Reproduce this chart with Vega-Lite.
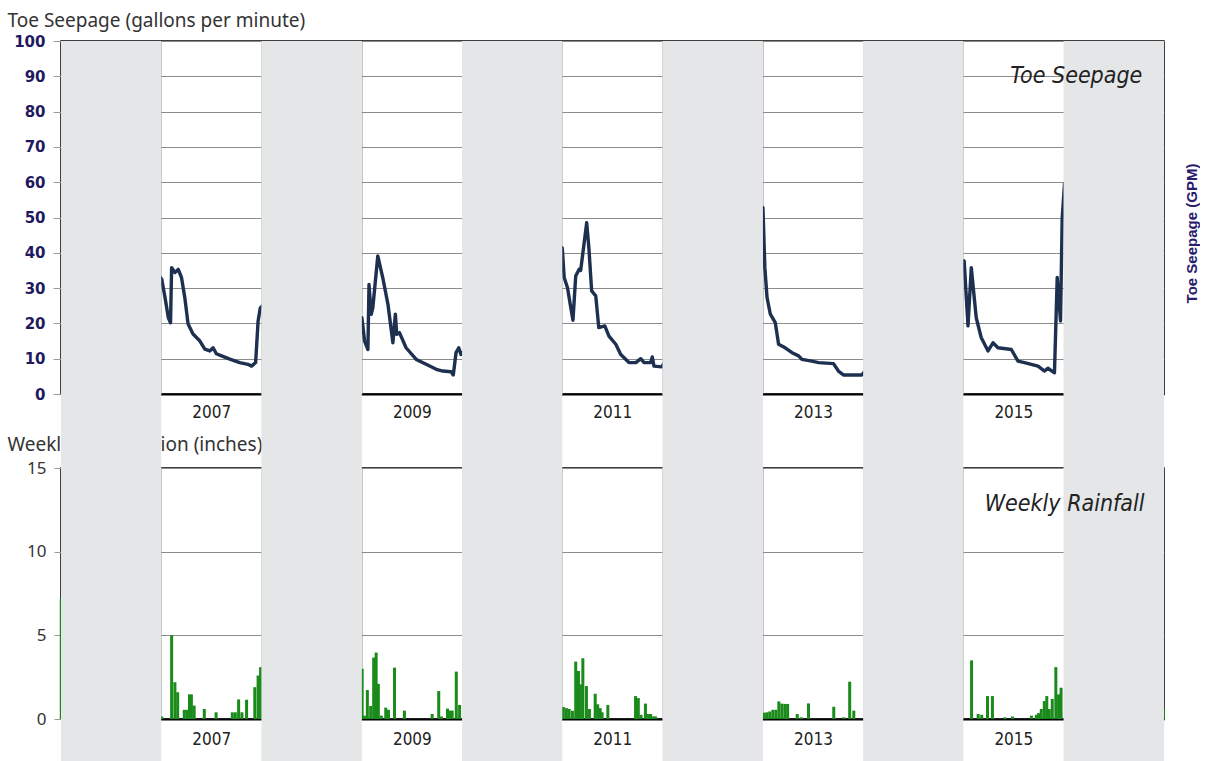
{
  "$schema": "https://vega.github.io/schema/vega-lite/v6.json",
  "background": "white",
  "padding": {"left": 6, "top": 10, "right": 0, "bottom": 0},
  "bounds": "flush",
  "spacing": 74,
  "config": {
    "view": {"stroke": "black", "strokeWidth": 1.5}
  },
  "datasets": {
    "bands": [
      {"start": "2006-01-01", "end": "2007-01-01"},
      {"start": "2008-01-01", "end": "2009-01-01"},
      {"start": "2010-01-01", "end": "2011-01-01"},
      {"start": "2012-01-01", "end": "2013-01-01"},
      {"start": "2014-01-01", "end": "2015-01-01"},
      {"start": "2016-01-01", "end": "2017-01-01"}
    ],
    "seepage": [
      {"date": "2006-12-20", "gpm": 34},
      {"date": "2007-01-03", "gpm": 32.5},
      {"date": "2007-01-15", "gpm": 27.3},
      {"date": "2007-01-27", "gpm": 21.6},
      {"date": "2007-02-04", "gpm": 20.2},
      {"date": "2007-02-08", "gpm": 35.8},
      {"date": "2007-02-20", "gpm": 34.4},
      {"date": "2007-03-04", "gpm": 35.3},
      {"date": "2007-03-16", "gpm": 33},
      {"date": "2007-03-28", "gpm": 27.3},
      {"date": "2007-04-09", "gpm": 19.8},
      {"date": "2007-04-27", "gpm": 17},
      {"date": "2007-05-22", "gpm": 15},
      {"date": "2007-06-09", "gpm": 12.7},
      {"date": "2007-06-27", "gpm": 12.2},
      {"date": "2007-07-09", "gpm": 13.1},
      {"date": "2007-07-21", "gpm": 11.4},
      {"date": "2007-08-09", "gpm": 10.8},
      {"date": "2007-09-08", "gpm": 9.9},
      {"date": "2007-10-14", "gpm": 8.9},
      {"date": "2007-11-13", "gpm": 8.4},
      {"date": "2007-11-26", "gpm": 7.9},
      {"date": "2007-12-11", "gpm": 8.9},
      {"date": "2007-12-20", "gpm": 20.7},
      {"date": "2007-12-28", "gpm": 24.4},
      {"date": "2008-01-05", "gpm": 25},
      {"date": "2009-01-01", "gpm": 21.6},
      {"date": "2009-01-11", "gpm": 15},
      {"date": "2009-01-23", "gpm": 12.6},
      {"date": "2009-01-27", "gpm": 31},
      {"date": "2009-02-04", "gpm": 22.6},
      {"date": "2009-02-10", "gpm": 24.5},
      {"date": "2009-02-28", "gpm": 39.1},
      {"date": "2009-03-18", "gpm": 33},
      {"date": "2009-04-06", "gpm": 25.4},
      {"date": "2009-04-24", "gpm": 14.5},
      {"date": "2009-05-03", "gpm": 22.6},
      {"date": "2009-05-08", "gpm": 16.9},
      {"date": "2009-05-18", "gpm": 17.4},
      {"date": "2009-06-11", "gpm": 13.1},
      {"date": "2009-07-18", "gpm": 9.8},
      {"date": "2009-08-23", "gpm": 8.4},
      {"date": "2009-09-29", "gpm": 7},
      {"date": "2009-10-23", "gpm": 6.5},
      {"date": "2009-11-22", "gpm": 6.3},
      {"date": "2009-11-30", "gpm": 5.4},
      {"date": "2009-12-10", "gpm": 11.7},
      {"date": "2009-12-20", "gpm": 13.1},
      {"date": "2009-12-28", "gpm": 11.2},
      {"date": "2011-01-01", "gpm": 41.4},
      {"date": "2011-01-08", "gpm": 33},
      {"date": "2011-01-20", "gpm": 30.1},
      {"date": "2011-02-01", "gpm": 24.5},
      {"date": "2011-02-09", "gpm": 20.9},
      {"date": "2011-02-19", "gpm": 33.4},
      {"date": "2011-03-03", "gpm": 35.3},
      {"date": "2011-03-09", "gpm": 35},
      {"date": "2011-03-31", "gpm": 48.5},
      {"date": "2011-04-08", "gpm": 41.4},
      {"date": "2011-04-18", "gpm": 29.2},
      {"date": "2011-05-03", "gpm": 27.8},
      {"date": "2011-05-14", "gpm": 18.8},
      {"date": "2011-06-05", "gpm": 19.3},
      {"date": "2011-06-20", "gpm": 16.4},
      {"date": "2011-07-15", "gpm": 14.1},
      {"date": "2011-08-02", "gpm": 11.2},
      {"date": "2011-09-01", "gpm": 8.9},
      {"date": "2011-09-26", "gpm": 8.9},
      {"date": "2011-10-14", "gpm": 10},
      {"date": "2011-10-26", "gpm": 8.9},
      {"date": "2011-11-19", "gpm": 8.9},
      {"date": "2011-11-25", "gpm": 10.5},
      {"date": "2011-12-01", "gpm": 7.9},
      {"date": "2011-12-29", "gpm": 7.7},
      {"date": "2013-01-01", "gpm": 52.8},
      {"date": "2013-01-08", "gpm": 35.8},
      {"date": "2013-01-16", "gpm": 27.3},
      {"date": "2013-01-28", "gpm": 22.6},
      {"date": "2013-02-15", "gpm": 20.2},
      {"date": "2013-02-27", "gpm": 14.1},
      {"date": "2013-03-23", "gpm": 13.1},
      {"date": "2013-04-17", "gpm": 11.7},
      {"date": "2013-05-11", "gpm": 10.8},
      {"date": "2013-05-23", "gpm": 9.8},
      {"date": "2013-06-28", "gpm": 9.3},
      {"date": "2013-07-23", "gpm": 8.9},
      {"date": "2013-09-15", "gpm": 8.6},
      {"date": "2013-10-03", "gpm": 6.5},
      {"date": "2013-10-21", "gpm": 5.4},
      {"date": "2013-12-27", "gpm": 5.4},
      {"date": "2015-01-04", "gpm": 37.7},
      {"date": "2015-01-18", "gpm": 19.3},
      {"date": "2015-01-30", "gpm": 35.8},
      {"date": "2015-02-17", "gpm": 21.6},
      {"date": "2015-03-07", "gpm": 16},
      {"date": "2015-04-01", "gpm": 12.2},
      {"date": "2015-04-19", "gpm": 14.5},
      {"date": "2015-05-07", "gpm": 13.1},
      {"date": "2015-06-25", "gpm": 12.6},
      {"date": "2015-07-19", "gpm": 9.3},
      {"date": "2015-08-12", "gpm": 8.9},
      {"date": "2015-09-30", "gpm": 7.9},
      {"date": "2015-10-24", "gpm": 6.5},
      {"date": "2015-11-05", "gpm": 7.3},
      {"date": "2015-11-29", "gpm": 6},
      {"date": "2015-12-09", "gpm": 33},
      {"date": "2015-12-21", "gpm": 20.7},
      {"date": "2015-12-27", "gpm": 49.6},
      {"date": "2016-01-05", "gpm": 60}
    ],
    "rain": [
      {"date": "2006-01-02", "inches": 7.2},
      {"date": "2007-01-03", "inches": 0.15},
      {"date": "2007-02-08", "inches": 5.0},
      {"date": "2007-02-20", "inches": 2.2},
      {"date": "2007-03-02", "inches": 1.6},
      {"date": "2007-03-26", "inches": 0.55},
      {"date": "2007-04-05", "inches": 0.55},
      {"date": "2007-04-14", "inches": 1.47},
      {"date": "2007-04-21", "inches": 1.47},
      {"date": "2007-05-01", "inches": 0.8},
      {"date": "2007-06-07", "inches": 0.6},
      {"date": "2007-07-20", "inches": 0.4},
      {"date": "2007-09-17", "inches": 0.4},
      {"date": "2007-09-28", "inches": 0.4},
      {"date": "2007-10-10", "inches": 1.17},
      {"date": "2007-10-22", "inches": 0.4},
      {"date": "2007-11-08", "inches": 1.15},
      {"date": "2007-12-08", "inches": 1.9},
      {"date": "2007-12-20", "inches": 2.6},
      {"date": "2007-12-29", "inches": 3.1},
      {"date": "2009-01-02", "inches": 3.0},
      {"date": "2009-01-10", "inches": 0.2},
      {"date": "2009-01-21", "inches": 1.73},
      {"date": "2009-02-02", "inches": 0.78},
      {"date": "2009-02-13", "inches": 3.67},
      {"date": "2009-02-22", "inches": 3.97},
      {"date": "2009-03-02", "inches": 2.1},
      {"date": "2009-03-13", "inches": 0.2},
      {"date": "2009-03-29", "inches": 0.68},
      {"date": "2009-04-08", "inches": 0.55},
      {"date": "2009-04-30", "inches": 3.07},
      {"date": "2009-06-05", "inches": 0.5},
      {"date": "2009-09-14", "inches": 0.3},
      {"date": "2009-10-08", "inches": 1.67},
      {"date": "2009-10-18", "inches": 0.15},
      {"date": "2009-11-09", "inches": 0.62},
      {"date": "2009-11-18", "inches": 0.5},
      {"date": "2009-11-26", "inches": 0.5},
      {"date": "2009-12-11", "inches": 2.83},
      {"date": "2009-12-23", "inches": 0.84},
      {"date": "2011-01-05", "inches": 0.72},
      {"date": "2011-01-16", "inches": 0.65},
      {"date": "2011-01-26", "inches": 0.6},
      {"date": "2011-02-07", "inches": 0.5},
      {"date": "2011-02-19", "inches": 3.43},
      {"date": "2011-03-01", "inches": 2.87},
      {"date": "2011-03-08", "inches": 2.07},
      {"date": "2011-03-17", "inches": 3.63},
      {"date": "2011-03-30", "inches": 1.97},
      {"date": "2011-04-10", "inches": 0.6},
      {"date": "2011-05-01", "inches": 1.51},
      {"date": "2011-05-10", "inches": 0.88},
      {"date": "2011-05-19", "inches": 0.65},
      {"date": "2011-05-26", "inches": 0.4},
      {"date": "2011-06-16", "inches": 0.84},
      {"date": "2011-09-25", "inches": 1.37},
      {"date": "2011-10-05", "inches": 1.25},
      {"date": "2011-10-15", "inches": 0.25},
      {"date": "2011-10-31", "inches": 0.92},
      {"date": "2011-11-11", "inches": 0.3},
      {"date": "2011-11-19", "inches": 0.3},
      {"date": "2011-11-29", "inches": 0.15},
      {"date": "2011-12-07", "inches": 0.15},
      {"date": "2013-01-06", "inches": 0.38},
      {"date": "2013-01-16", "inches": 0.4},
      {"date": "2013-01-26", "inches": 0.45},
      {"date": "2013-02-06", "inches": 0.55},
      {"date": "2013-02-17", "inches": 0.55},
      {"date": "2013-02-28", "inches": 1.05},
      {"date": "2013-03-11", "inches": 0.92},
      {"date": "2013-03-22", "inches": 0.9},
      {"date": "2013-04-01", "inches": 0.9},
      {"date": "2013-05-06", "inches": 0.3},
      {"date": "2013-05-21", "inches": 0.1},
      {"date": "2013-06-16", "inches": 0.93},
      {"date": "2013-09-16", "inches": 0.73},
      {"date": "2013-10-22", "inches": 0.1},
      {"date": "2013-11-13", "inches": 2.23},
      {"date": "2013-11-28", "inches": 0.5},
      {"date": "2015-01-31", "inches": 3.5},
      {"date": "2015-02-24", "inches": 0.3},
      {"date": "2015-03-09", "inches": 0.25},
      {"date": "2015-03-30", "inches": 1.37},
      {"date": "2015-04-17", "inches": 1.37},
      {"date": "2015-06-01", "inches": 0.1},
      {"date": "2015-06-29", "inches": 0.15},
      {"date": "2015-09-06", "inches": 0.2},
      {"date": "2015-09-24", "inches": 0.25},
      {"date": "2015-10-02", "inches": 0.35},
      {"date": "2015-10-12", "inches": 0.6},
      {"date": "2015-10-23", "inches": 1.07},
      {"date": "2015-11-01", "inches": 1.37},
      {"date": "2015-11-10", "inches": 0.6},
      {"date": "2015-11-21", "inches": 1.2},
      {"date": "2015-12-04", "inches": 3.1},
      {"date": "2015-12-14", "inches": 1.47},
      {"date": "2015-12-23", "inches": 1.87},
      {"date": "2016-12-30", "inches": 0.6}
    ]
  },
  "vconcat": [
    {
      "width": 1103,
      "height": 353,
      "resolve": {"axis": {"y": "independent"}},
      "layer": [
        {
          "data": {"name": "seepage"},
          "mark": {"type": "line", "color": "#1d3050", "strokeWidth": 3.4, "strokeJoin": "round"},
          "encoding": {
            "x": {
              "field": "date",
              "type": "temporal",
              "title": null,
              "scale": {"type": "utc", "padding": 0, "domain": [{"year": 2006, "month": 1, "date": 1, "utc": true}, {"year": 2017, "month": 1, "date": 1, "utc": true}]},
              "axis": {
                "values": [
                  {"year": 2006, "utc": true}, {"year": 2007, "utc": true}, {"year": 2008, "utc": true},
                  {"year": 2009, "utc": true}, {"year": 2010, "utc": true}, {"year": 2011, "utc": true},
                  {"year": 2012, "utc": true}, {"year": 2013, "utc": true}, {"year": 2014, "utc": true},
                  {"year": 2015, "utc": true}, {"year": 2016, "utc": true}
                ],
                "format": "%Y",
                "labelOffset": 50,
                "labelPadding": 10,
                "labelFont": "DejaVu Sans Condensed, sans-serif",
                "labelFontSize": 17,
                "labelColor": "#222222",
                "ticks": false,
                "domainColor": "black",
                "domainWidth": 2,
                "grid": true,
                "gridColor": "#c4c4c4",
                "gridWidth": 1
              }
            },
            "y": {
              "field": "gpm",
              "type": "quantitative",
              "scale": {"domain": [0, 100], "nice": false},
              "axis": {
                "values": [0, 10, 20, 30, 40, 50, 60, 70, 80, 90, 100],
                "labelFont": "DejaVu Sans",
                "labelFontWeight": "bold",
                "labelFontSize": 15,
                "labelColor": "#1f1a60",
                "labelPadding": 8,
                "tickSize": 8,
                "tickColor": "#9a9a9a",
                "domain": false,
                "grid": true,
                "gridColor": "#8c8c8c",
                "gridWidth": 1,
                "title": "Toe Seepage (gallons per minute)",
                "titleAngle": 0,
                "titleAlign": "left",
                "titleBaseline": "top",
                "titleX": -54,
                "titleY": -30,
                "titleFont": "Noto Sans",
                "titleFontSize": 19,
                "titleFontWeight": "normal",
                "titleColor": "#333333"
              }
            }
          }
        },
        {
          "data": {"name": "bands"},
          "mark": {"type": "rect", "color": "#e5e6e8"},
          "encoding": {
            "x": {"field": "start", "type": "temporal"},
            "x2": {"field": "end"},
            "y": {
              "datum": 0,
              "type": "quantitative",
              "scale": {"domain": [0, 100], "nice": false},
              "axis": {
                "orient": "right",
                "labels": false,
                "ticks": false,
                "domain": false,
                "grid": false,
                "title": "Toe Seepage (GPM)",
                "titleAngle": 270,
                "titleAlign": "center",
                "titleBaseline": "middle",
                "titleX": 27,
                "titleY": 192,
                "titleFont": "Liberation Sans",
                "titleFontWeight": "bold",
                "titleFontSize": 15,
                "titleColor": "#28206e"
              }
            },
            "y2": {"datum": 100}
          }
        },
        {
          "data": {"values": [{"label": "Toe Seepage"}]},
          "mark": {
            "type": "text",
            "align": "right",
            "baseline": "alphabetic",
            "font": "DejaVu Sans Condensed, sans-serif",
            "fontStyle": "italic",
            "fontSize": 23,
            "color": "#222222"
          },
          "encoding": {
            "x": {"datum": {"year": 2016, "month": 10, "date": 14, "utc": true}, "type": "temporal"},
            "y": {"datum": 88.2, "type": "quantitative", "scale": {"domain": [0, 100], "nice": false}, "axis": null},
            "text": {"field": "label"}
          }
        }
      ]
    },
    {
      "width": 1103,
      "height": 251,
      "layer": [
        {
          "data": {"name": "rain"},
          "mark": {"type": "bar", "color": "#1a8a1a", "width": 3},
          "encoding": {
            "x": {
              "field": "date",
              "type": "temporal",
              "title": null,
              "scale": {"type": "utc", "padding": 0, "domain": [{"year": 2006, "month": 1, "date": 1, "utc": true}, {"year": 2017, "month": 1, "date": 1, "utc": true}]},
              "axis": {
                "values": [
                  {"year": 2006, "utc": true}, {"year": 2007, "utc": true}, {"year": 2008, "utc": true},
                  {"year": 2009, "utc": true}, {"year": 2010, "utc": true}, {"year": 2011, "utc": true},
                  {"year": 2012, "utc": true}, {"year": 2013, "utc": true}, {"year": 2014, "utc": true},
                  {"year": 2015, "utc": true}, {"year": 2016, "utc": true}
                ],
                "format": "%Y",
                "labelOffset": 50,
                "labelPadding": 12,
                "labelFont": "DejaVu Sans Condensed, sans-serif",
                "labelFontSize": 17,
                "labelColor": "#222222",
                "ticks": false,
                "domainColor": "black",
                "domainWidth": 2,
                "grid": true,
                "gridColor": "#c4c4c4",
                "gridWidth": 1
              }
            },
            "y": {
              "field": "inches",
              "type": "quantitative",
              "scale": {"domain": [0, 15], "nice": false},
              "axis": {
                "values": [0, 5, 10, 15],
                "labelFont": "Noto Sans",
                "labelFontSize": 17,
                "labelColor": "#333333",
                "labelPadding": 8,
                "tickSize": 7,
                "tickColor": "#9a9a9a",
                "domain": false,
                "grid": true,
                "gridColor": "#8c8c8c",
                "gridWidth": 1,
                "title": "Weekly Precipitation (inches)",
                "titleAngle": 0,
                "titleAlign": "left",
                "titleBaseline": "top",
                "titleX": -54,
                "titleY": -33,
                "titleFont": "Noto Sans",
                "titleFontSize": 19,
                "titleFontWeight": "normal",
                "titleColor": "#333333"
              }
            }
          }
        },
        {
          "data": {"name": "bands"},
          "mark": {"type": "rect", "color": "#e5e6e8"},
          "encoding": {
            "x": {"field": "start", "type": "temporal"},
            "x2": {"field": "end"},
            "y": {"datum": -2.6, "type": "quantitative", "scale": {"domain": [0, 15], "nice": false}},
            "y2": {"datum": 19.45}
          }
        },
        {
          "data": {"values": [{"label": "Weekly Rainfall"}]},
          "mark": {
            "type": "text",
            "align": "right",
            "baseline": "alphabetic",
            "font": "DejaVu Sans Condensed, sans-serif",
            "fontStyle": "italic",
            "fontSize": 23,
            "color": "#222222"
          },
          "encoding": {
            "x": {"datum": {"year": 2016, "month": 10, "date": 22, "utc": true}, "type": "temporal"},
            "y": {"datum": 12.43, "type": "quantitative", "scale": {"domain": [0, 15], "nice": false}},
            "text": {"field": "label"}
          }
        }
      ]
    }
  ]
}
